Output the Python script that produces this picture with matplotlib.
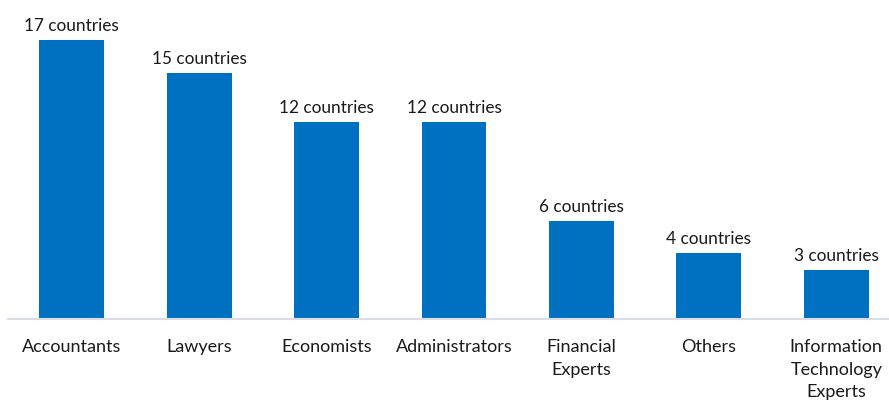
import matplotlib.pyplot as plt

plt.rcParams['font.family'] = ['Lato', 'DejaVu Sans']

professions = ['Accountants', 'Lawyers', 'Economists', 'Administrators',
               'Financial\nExperts', 'Others', 'Information\nTechnology\nExperts']
countries = [17, 15, 12, 12, 6, 4, 3]

fig = plt.figure(figsize=(8.89, 4.02), dpi=100)
ax = fig.add_axes([8 / 889, 82 / 402, 892 / 889, 310 / 402])

x = range(len(professions))
bars = ax.bar(x, countries, width=0.51, color='#0070C0')

for b, n in zip(bars, countries):
    ax.annotate(f'{n} countries', (b.get_x() + b.get_width() / 2, b.get_height()),
                xytext=(0, 5), textcoords='offset points',
                ha='center', va='bottom', fontsize=12.4, color='#1a1a1a')

ax.set_xlim(-0.5, 6.5)
ax.set_ylim(0, 17 * 310 / 279)
ax.set_xticks(list(x))
ax.set_xticklabels(professions, fontsize=13, color='#1a1a1a', linespacing=1.5)
ax.tick_params(axis='x', length=0, pad=14)
ax.set_yticks([])

for side in ['top', 'left', 'right']:
    ax.spines[side].set_visible(False)
ax.spines['bottom'].set_color('#D9DEE6')
ax.spines['bottom'].set_linewidth(1.5)

fig.savefig('out.png', dpi=100)
